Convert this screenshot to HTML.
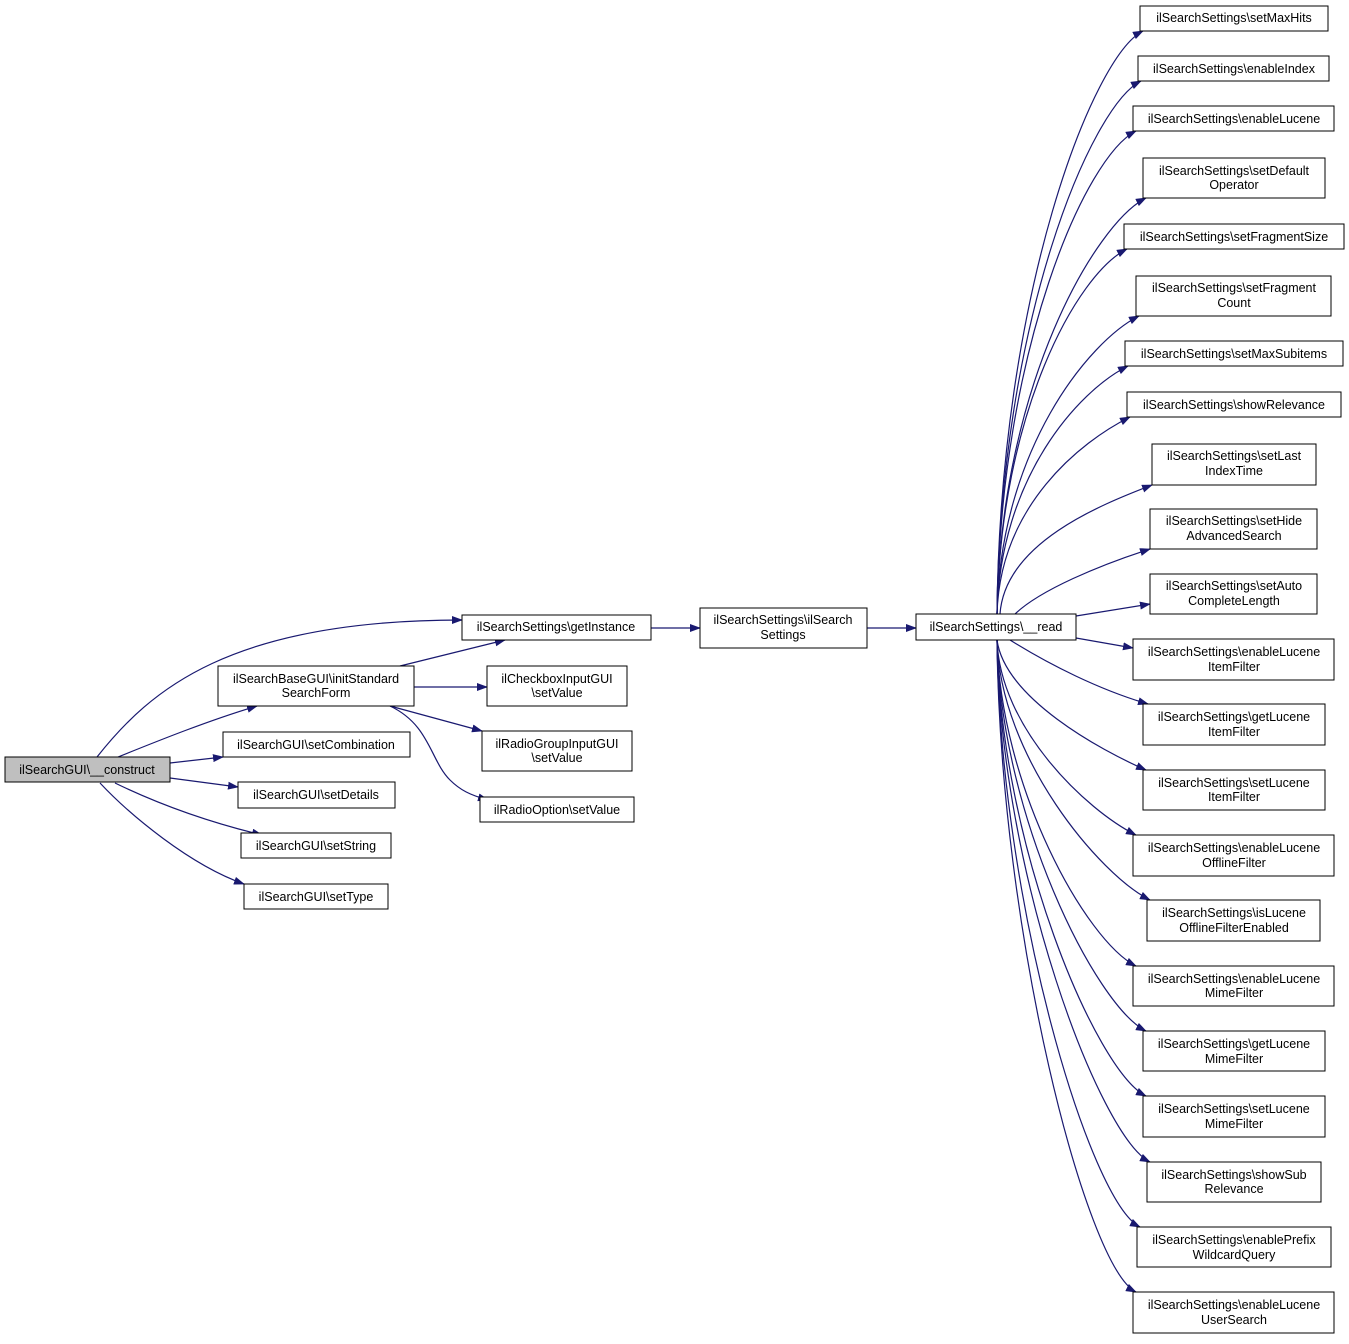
<!DOCTYPE html>
<html><head><meta charset="utf-8"><style>
body{margin:0;background:#fff}
svg text{font-family:"Liberation Sans",sans-serif;font-size:12.5px;fill:#000;text-anchor:middle}
</style></head><body>
<svg width="1349" height="1339" viewBox="0 0 1349 1339" xmlns="http://www.w3.org/2000/svg">
<defs><marker id="a" markerWidth="11" markerHeight="8" refX="10" refY="4" orient="auto" markerUnits="userSpaceOnUse"><path d="M0,0 L11,4 L0,8 z" fill="#191970"/></marker></defs>
<g fill="none" stroke="#191970" stroke-width="1.2" marker-end="url(#a)">
<path d="M97,757 C150,690 230,620 462,620"/>
<path d="M118,757 C160,740 210,720 257,706"/>
<path d="M170,763 L223,757"/>
<path d="M170,778 L238,787"/>
<path d="M115,783 C150,800 200,820 262,835"/>
<path d="M100,783 C130,815 190,865 244,884"/>
<path d="M400,666 L505,640"/>
<path d="M414,687 L487,687"/>
<path d="M390,706 L482,731"/>
<path d="M390,706 C430,725 430,760 450,780 C460,790 470,795 488,800"/>
<path d="M651,628 L700,628"/>
<path d="M867,628 L916,628"/>
<path d="M997,614 C1000,293 1093,56 1143,31"/>
<path d="M997,614 C1000,321 1091,106 1141,81"/>
<path d="M997,614 C1000,348 1086,156 1136,131"/>
<path d="M997,614 C1000,385 1096,223 1146,198"/>
<path d="M997,614 C1000,413 1077,274 1127,249"/>
<path d="M997,614 C1000,450 1089,341 1139,316"/>
<path d="M997,614 C1000,478 1078,391 1128,366"/>
<path d="M997,614 C1000,506 1080,442 1130,417"/>
<path d="M1000,614 C1005,543 1100,505 1152,485"/>
<path d="M1015,614 C1040,590 1100,565 1150,549"/>
<path d="M1076,616 L1150,604"/>
<path d="M1076,638 L1133,648"/>
<path d="M1010,640 C1050,665 1100,690 1148,704"/>
<path d="M997,640 C1005,698 1100,750 1146,770"/>
<path d="M997,640 C1000,728 1086,810 1136,835"/>
<path d="M997,640 C1000,757 1100,875 1150,900"/>
<path d="M997,640 C1000,787 1086,941 1136,966"/>
<path d="M997,640 C1000,816 1096,1006 1146,1031"/>
<path d="M997,640 C1000,845 1096,1071 1146,1096"/>
<path d="M997,640 C1000,875 1100,1137 1150,1162"/>
<path d="M997,640 C1000,904 1090,1202 1140,1227"/>
<path d="M997,640 C1000,933 1086,1267 1136,1292"/>
</g>
<g stroke="#000" stroke-width="1" fill="#fff">
<rect x="5" y="757" width="165" height="25" fill="#bfbfbf"/>
<rect x="218" y="666" width="196" height="40"/>
<rect x="223" y="732" width="187" height="25"/>
<rect x="238" y="782" width="157" height="26"/>
<rect x="241" y="833" width="150" height="25"/>
<rect x="244" y="884" width="144" height="25"/>
<rect x="462" y="615" width="189" height="25"/>
<rect x="487" y="666" width="140" height="40"/>
<rect x="482" y="731" width="150" height="40"/>
<rect x="480" y="797" width="154" height="25"/>
<rect x="700" y="608" width="167" height="40"/>
<rect x="916" y="614" width="160" height="26"/>
<rect x="1140" y="6" width="188" height="25"/>
<rect x="1138" y="56" width="191" height="25"/>
<rect x="1133" y="106" width="201" height="25"/>
<rect x="1143" y="158" width="182" height="40"/>
<rect x="1124" y="224" width="220" height="25"/>
<rect x="1136" y="276" width="195" height="40"/>
<rect x="1125" y="341" width="218" height="25"/>
<rect x="1127" y="392" width="214" height="25"/>
<rect x="1152" y="444" width="164" height="41"/>
<rect x="1150" y="509" width="167" height="40"/>
<rect x="1150" y="574" width="167" height="40"/>
<rect x="1133" y="639" width="201" height="41"/>
<rect x="1143" y="704" width="182" height="41"/>
<rect x="1143" y="770" width="182" height="40"/>
<rect x="1133" y="835" width="201" height="41"/>
<rect x="1147" y="900" width="173" height="41"/>
<rect x="1133" y="966" width="201" height="40"/>
<rect x="1143" y="1031" width="182" height="40"/>
<rect x="1143" y="1096" width="182" height="41"/>
<rect x="1147" y="1162" width="174" height="40"/>
<rect x="1137" y="1227" width="194" height="40"/>
<rect x="1133" y="1292" width="201" height="41"/>
</g>
<g>
<text x="87" y="774">ilSearchGUI\__construct</text>
<text x="316" y="683">ilSearchBaseGUI\initStandard</text><text x="316" y="697">SearchForm</text>
<text x="316" y="749">ilSearchGUI\setCombination</text>
<text x="316" y="799">ilSearchGUI\setDetails</text>
<text x="316" y="850">ilSearchGUI\setString</text>
<text x="316" y="901">ilSearchGUI\setType</text>
<text x="556" y="631">ilSearchSettings\getInstance</text>
<text x="557" y="683">ilCheckboxInputGUI</text><text x="557" y="697">\setValue</text>
<text x="557" y="748">ilRadioGroupInputGUI</text><text x="557" y="762">\setValue</text>
<text x="557" y="814">ilRadioOption\setValue</text>
<text x="783" y="624">ilSearchSettings\ilSearch</text><text x="783" y="639">Settings</text>
<text x="996" y="631">ilSearchSettings\__read</text>
<text x="1234" y="22">ilSearchSettings\setMaxHits</text>
<text x="1234" y="73">ilSearchSettings\enableIndex</text>
<text x="1234" y="123">ilSearchSettings\enableLucene</text>
<text x="1234" y="175">ilSearchSettings\setDefault</text><text x="1234" y="189">Operator</text>
<text x="1234" y="241">ilSearchSettings\setFragmentSize</text>
<text x="1234" y="292">ilSearchSettings\setFragment</text><text x="1234" y="307">Count</text>
<text x="1234" y="358">ilSearchSettings\setMaxSubitems</text>
<text x="1234" y="409">ilSearchSettings\showRelevance</text>
<text x="1234" y="460">ilSearchSettings\setLast</text><text x="1234" y="475">IndexTime</text>
<text x="1234" y="525">ilSearchSettings\setHide</text><text x="1234" y="540">AdvancedSearch</text>
<text x="1234" y="590">ilSearchSettings\setAuto</text><text x="1234" y="605">CompleteLength</text>
<text x="1234" y="656">ilSearchSettings\enableLucene</text><text x="1234" y="671">ItemFilter</text>
<text x="1234" y="721">ilSearchSettings\getLucene</text><text x="1234" y="736">ItemFilter</text>
<text x="1234" y="787">ilSearchSettings\setLucene</text><text x="1234" y="801">ItemFilter</text>
<text x="1234" y="852">ilSearchSettings\enableLucene</text><text x="1234" y="867">OfflineFilter</text>
<text x="1234" y="917">ilSearchSettings\isLucene</text><text x="1234" y="932">OfflineFilterEnabled</text>
<text x="1234" y="983">ilSearchSettings\enableLucene</text><text x="1234" y="997">MimeFilter</text>
<text x="1234" y="1048">ilSearchSettings\getLucene</text><text x="1234" y="1063">MimeFilter</text>
<text x="1234" y="1113">ilSearchSettings\setLucene</text><text x="1234" y="1128">MimeFilter</text>
<text x="1234" y="1179">ilSearchSettings\showSub</text><text x="1234" y="1193">Relevance</text>
<text x="1234" y="1244">ilSearchSettings\enablePrefix</text><text x="1234" y="1259">WildcardQuery</text>
<text x="1234" y="1309">ilSearchSettings\enableLucene</text><text x="1234" y="1324">UserSearch</text>
</g>
</svg>
</body></html>
